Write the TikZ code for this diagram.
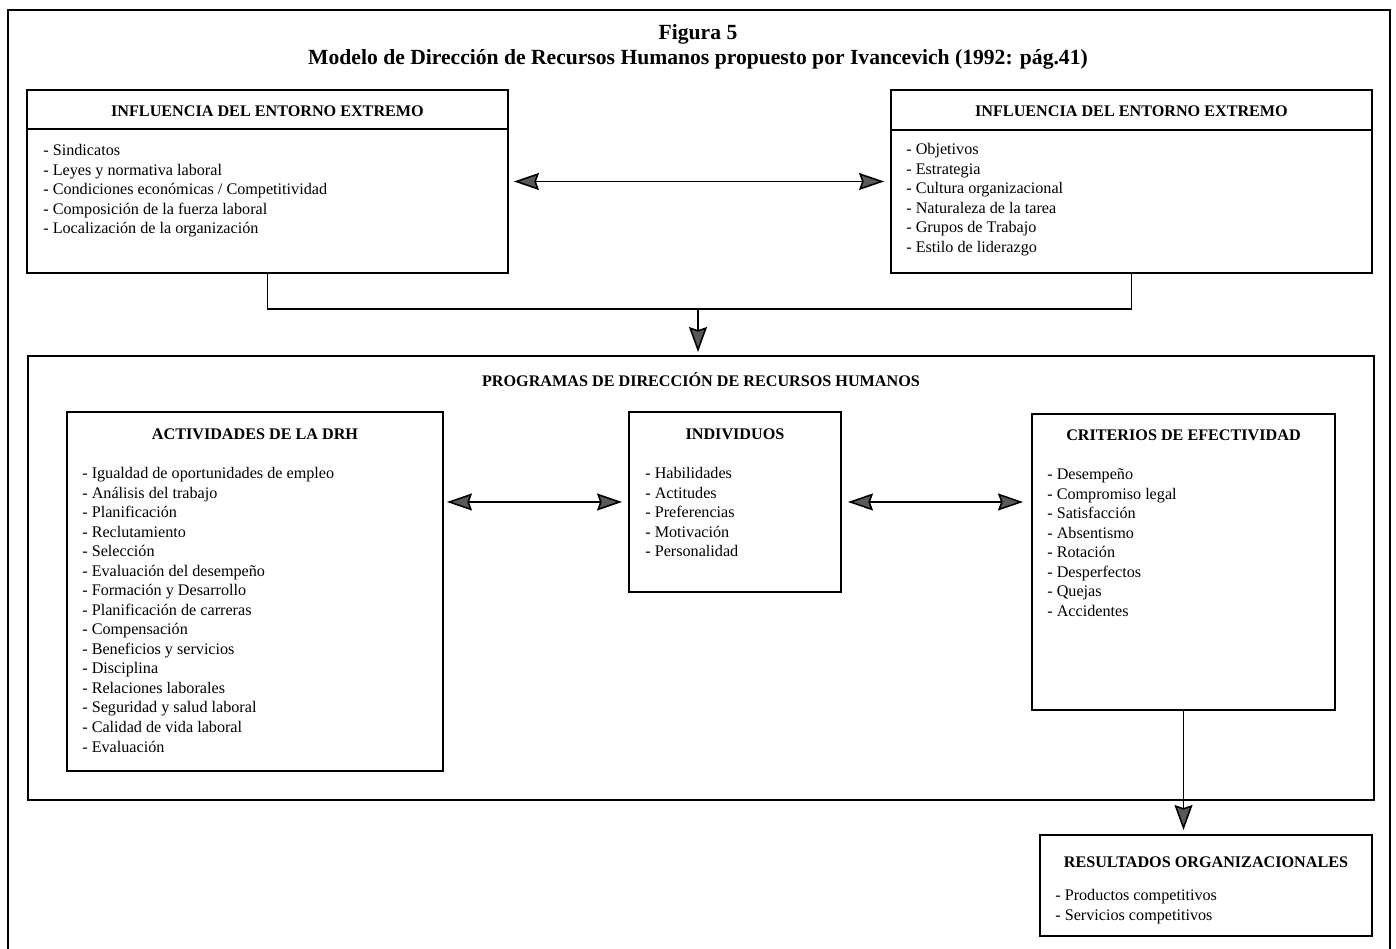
\documentclass[tikz,border=0pt]{standalone}
\usepackage{fontspec}
\setmainfont{Liberation Serif}
\usetikzlibrary{arrows.meta}
\begin{document}
\begin{tikzpicture}[x=0.02cm,y=-0.02cm]
\tikzstyle{caja} = [draw, line width=0.9pt, inner sep=0, outer sep=0]
\tikzstyle{linea} = [line width=0.9pt]
\tikzstyle{titulo} = [inner sep=0, align=center, font={\fontsize{12.3}{14.4}\selectfont\bfseries}]
\tikzstyle{encabezado} = [inner sep=0, font={\fontsize{9.2}{11}\selectfont\bfseries}]
\tikzstyle{lista} = [inner sep=0, anchor=north west, align=left, font={\fontsize{9.2}{11.1}\selectfont}]
\tikzstyle{flecha} = [line width=0.9pt, -{Stealth[length=5mm,width=3.6mm,inset=0.6mm,fill=gray!70!black]}]
\tikzstyle{doble} = [line width=0.9pt, {Stealth[length=5mm,width=3.4mm,inset=0.6mm,fill=gray!70!black]}-{Stealth[length=5mm,width=3.4mm,inset=0.6mm,fill=gray!70!black]}]
\useasboundingbox (0,0) rectangle (1396,949);
\draw [line width=1.2pt] (8,949) -- (8,10) -- (1390,10) -- (1390,949);
\node [titulo] (fig) at (698,47) {Figura 5\\Modelo de Dirección de Recursos Humanos propuesto por Ivancevich (1992: pág.41)};

\node [caja, minimum width=9.62cm, minimum height=3.66cm] (ext1) at (267.5,181.5) {};
\draw [linea] ([yshift=-0.78cm]ext1.north west) -- ([yshift=-0.78cm]ext1.north east);
\node [encabezado] (ext1h) at (267.5,111) {INFLUENCIA DEL ENTORNO EXTREMO};
\node [lista] (ext1l) at (43,144.4) {- Sindicatos\\- Leyes y normativa laboral\\- Condiciones económicas / Competitividad\\- Composición de la fuerza laboral\\- Localización de la organización};

\node [caja, minimum width=9.62cm, minimum height=3.66cm] (ext2) at (1131.5,181.5) {};
\draw [linea] ([yshift=-0.8cm]ext2.north west) -- ([yshift=-0.8cm]ext2.north east);
\node [encabezado] (ext2h) at (1131.5,111) {INFLUENCIA DEL ENTORNO EXTREMO};
\node [lista] (ext2l) at (906,143.4) {- Objetivos\\- Estrategia\\- Cultura organizacional\\- Naturaleza de la tarea\\- Grupos de Trabajo\\- Estilo de liderazgo};

\draw [doble, shorten <=0.12cm, shorten >=0.14cm] (ext1) edge (ext2);
\coordinate (union) at (698,309);
\draw [linea] (ext1.south) |- (union) -| (ext2.south);

\node [caja, minimum width=26.92cm, minimum height=8.88cm] (prog) at (701,578) {};
\node [encabezado] (progh) at (701,380) {PROGRAMAS DE DIRECCIÓN DE RECURSOS HUMANOS};
\draw [flecha, shorten >=0.08cm] (union) -- (union |- prog.north);

\node [caja, minimum width=7.52cm, minimum height=7.18cm] (act) at (255,591.5) {};
\node [encabezado] (acth) at (255,434) {ACTIVIDADES DE LA DRH};
\node [lista] (actl) at (82,467.4) {- Igualdad de oportunidades de empleo\\- Análisis del trabajo\\- Planificación\\- Reclutamiento\\- Selección\\- Evaluación del desempeño\\- Formación y Desarrollo\\- Planificación de carreras\\- Compensación\\- Beneficios y servicios\\- Disciplina\\- Relaciones laborales\\- Seguridad y salud laboral\\- Calidad de vida laboral\\- Evaluación};

\node [caja, minimum width=4.24cm, minimum height=3.6cm] (ind) at (735,502) {};
\node [encabezado] (indh) at (735,434) {INDIVIDUOS};
\node [lista] (indl) at (645,467.4) {- Habilidades\\- Actitudes\\- Preferencias\\- Motivación\\- Personalidad};

\node [caja, minimum width=6.06cm, minimum height=5.92cm] (crit) at (1183.5,562) {};
\node [encabezado] (crith) at (1183.5,435) {CRITERIOS DE EFECTIVIDAD};
\node [lista] (critl) at (1047,468.4) {- Desempeño\\- Compromiso legal\\- Satisfacción\\- Absentismo\\- Rotación\\- Desperfectos\\- Quejas\\- Accidentes};

\draw [doble, shorten <=0.08cm, shorten >=0.14cm] (act.east |- ind.west) -- (ind.west);
\draw [doble, shorten <=0.14cm, shorten >=0.18cm] (ind.east) -- (ind.east -| crit.west);

\node [caja, minimum width=6.64cm, minimum height=2.02cm] (res) at (1206,885.5) {};
\node [encabezado] (resh) at (1206,862) {RESULTADOS ORGANIZACIONALES};
\node [lista] (resl) at (1055,889.4) {- Productos competitivos\\- Servicios competitivos};
\draw [flecha, shorten >=0.1cm] (crit.south) -- (crit.south |- res.north);
\end{tikzpicture}
\end{document}
